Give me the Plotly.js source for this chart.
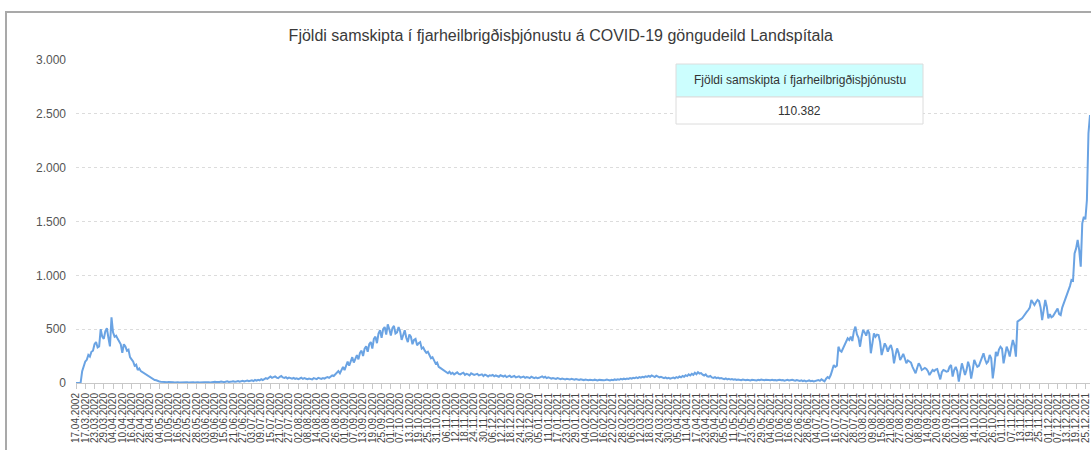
<!DOCTYPE html>
<html>
<head>
<meta charset="utf-8">
<script src="https://cdn.plot.ly/plotly-3.0.1.min.js"></script>
<style>
  html, body { margin: 0; padding: 0; background: #ffffff; }
  #chart { width: 1091px; height: 450px; }
</style>
</head>
<body>
<div id="chart"></div>
<script>
// ---- Data ----
const chartTitle = "Fjöldi samskipta í fjarheilbrigðisþjónustu á COVID-19 göngudeild Landspítala";
const boxHeader = "Fjöldi samskipta í fjarheilbrigðisþjónustu";
const boxValue = "110.382";

// first category is a stray row in the source data, then daily dates
const firstCategory = "17.04.2002";
const firstDailyDate = "2020-03-12";

// daily number of telehealth contacts
const contacts = [
  0, 0, 0, 2, 110, 150, 200, 215, 260, 245,
  290, 300, 360, 380, 330, 340, 500, 430, 410, 480,
  510, 420, 340, 610, 470, 430, 440, 410, 380, 360,
  280, 360, 340, 300, 310, 240, 220, 200, 160, 170,
  120, 135, 110, 100, 90, 80, 70, 65, 55, 45,
  35, 28, 25, 18, 14, 12, 10, 12, 9, 8,
  10, 7, 6, 8, 5, 9, 6, 5, 7, 6,
  4, 6, 8, 5, 7, 9, 6, 5, 8, 6,
  5, 7, 10, 8, 6, 9, 7, 5, 8, 10,
  12, 9, 7, 10, 14, 11, 8, 12, 15, 10,
  9, 13, 16, 11, 14, 18, 12, 15, 20, 14,
  17, 22, 16, 20, 25, 18, 28, 22, 30, 24,
  35, 28, 40, 45, 38, 52, 60, 48, 55, 62,
  50, 45, 58, 65, 52, 48, 55, 42, 50, 46,
  40, 48, 38, 44, 36, 42, 50, 38, 45, 40,
  35, 42, 38, 33, 45, 40, 36, 48, 42, 38,
  45, 40, 50, 55, 48, 60, 70, 65, 80, 95,
  110, 90, 130, 150, 120, 170, 200, 160, 210, 240,
  190, 230, 260, 220, 280, 300, 250, 320, 340, 290,
  360, 380, 320, 410, 430, 370, 460, 490, 420, 500,
  520, 450, 545, 500, 440, 510, 530, 460, 470, 520,
  480, 400, 440, 490, 420, 380, 450, 430, 360, 400,
  410, 350, 370, 380, 320, 330, 300, 280, 290, 250,
  230, 240, 200, 180, 190, 150, 140, 130, 120, 110,
  100, 90, 105, 85, 95, 80, 90, 100, 85, 80,
  90, 95, 75, 85, 80, 70, 90, 85, 75, 80,
  85, 70, 75, 80, 65, 78, 70, 60, 72, 68,
  75, 62, 70, 65, 58, 72, 66, 60, 70, 55,
  62, 68, 55, 60, 65, 52, 58, 62, 50, 56,
  60, 48, 55, 52, 45, 58, 50, 46, 52, 44,
  48, 55, 62, 50, 58, 45, 52, 48, 40, 46,
  42, 38, 45, 40, 36, 42, 38, 34, 40, 35,
  32, 38, 34, 30, 36, 33, 28, 34, 30, 27,
  32, 29, 26, 30, 28, 25, 31, 27, 24, 29,
  26, 30, 25, 28, 32, 27, 24, 30, 26, 33,
  28, 35, 30, 38, 33, 40, 36, 42, 38, 45,
  40, 48, 44, 52, 46, 55, 50, 58, 52, 62,
  56, 65, 58, 70, 62, 55, 68, 60, 52, 58,
  50, 45, 52, 42, 48, 40, 45, 50, 44, 55,
  48, 60, 52, 65, 58, 72, 64, 80, 70, 85,
  75, 95, 82, 100, 88, 92, 78, 70, 80, 62,
  58, 65, 52, 48, 55, 45, 50, 42, 46, 40,
  36, 42, 34, 38, 32, 36, 30, 35, 28, 33,
  30, 26, 32, 28, 25, 30, 27, 24, 29, 26,
  28, 24, 30, 26, 32, 27, 25, 30, 28, 24,
  26, 30, 25, 28, 23, 27, 30, 25, 28, 22,
  26, 29, 24, 27, 30, 25, 22, 28, 24, 20,
  25, 18, 22, 15, 20, 24, 17, 21, 15, 19,
  22, 28, 20, 35, 25, 15, 40, 55, 45, 74,
  120, 167, 150, 160, 337, 300, 290, 320, 353, 380,
  415, 400, 430, 390, 480, 523, 450, 420, 337, 430,
  492, 470, 440, 492, 460, 276, 380, 461, 430, 450,
  446, 380, 260, 320, 368, 340, 290, 330, 353, 300,
  183, 260, 321, 280, 214, 240, 270, 230, 183, 210,
  200, 190, 150, 120, 90, 140, 183, 160, 121, 130,
  140, 130, 110, 74, 100, 121, 110, 125, 130, 90,
  34, 100, 121, 115, 105, 110, 150, 167, 60, 120,
  150, 110, 12, 100, 183, 130, 74, 120, 198, 150,
  40, 120, 214, 180, 150, 160, 200, 240, 276, 220,
  183, 200, 260, 230, 43, 150, 290, 250, 310, 337,
  320, 183, 250, 337, 300, 245, 330, 400, 350, 245,
  570, 580, 585, 600, 620, 647, 660, 678, 700, 771,
  740, 725, 750, 771, 760, 700, 585, 680, 771, 709,
  600, 640, 610, 620, 647, 660, 693, 640, 631, 700,
  740, 771, 820, 864, 900, 957, 950, 1204, 1250, 1328,
  1235, 1080, 1483, 1545, 1520, 1700, 2320, 2489
];

const yTickVals = [0, 500, 1000, 1500, 2000, 2500, 3000];
const tickEvery = 6;

// ---- Categories (x) ----
function fmt(d) {
  const dd = String(d.getUTCDate()).padStart(2, "0");
  const mm = String(d.getUTCMonth() + 1).padStart(2, "0");
  return dd + "." + mm + "." + d.getUTCFullYear();
}
const categories = [firstCategory];
const start = new Date(firstDailyDate + "T00:00:00Z");
for (let k = 0; k < contacts.length - 1; k++) {
  const d = new Date(start.getTime() + k * 86400000);
  categories.push(fmt(d));
}
const xTickLabels = categories.filter((c, i) => i % tickEvery === 0);

// ---- Plot ----
const L = 76, R = 1, T = 60, B = 67, W = 1091, H = 450;
const plotW = W - L - R, plotH = H - T - B;
const px = v => (v - L) / plotW;
const py = v => (H - B - v) / plotH;

const trace = {
  type: "scatter",
  mode: "lines",
  x: categories,
  y: contacts,
  line: { color: "#6aa3e3", width: 2 },
  hoverinfo: "skip"
};

const layout = {
  width: W, height: H,
  margin: { l: L, r: R, t: T, b: B, pad: 0 },
  paper_bgcolor: "rgba(0,0,0,0)",
  plot_bgcolor: "rgba(0,0,0,0)",
  separators: ",.",
  font: { family: "Liberation Sans, Arial, sans-serif", color: "#444" },
  showlegend: false,
  title: {
    text: chartTitle,
    font: { size: 16, color: "#3a3a3a", family: "Liberation Sans, Arial, sans-serif" },
    xref: "container", x: 0.514, xanchor: "center",
    yref: "container", y: 1 - 35 / H, yanchor: "middle"
  },
  xaxis: {
    type: "category",
    range: [0, contacts.length - 1],
    tickmode: "array",
    tickvals: xTickLabels,
    ticktext: xTickLabels,
    tickangle: -90,
    tickfont: { size: 10, color: "#444" },
    ticks: "outside", ticklen: 5, tickcolor: "#c8c8c8", tickwidth: 1,
    showline: true, linecolor: "#c8c8c8", linewidth: 1,
    showgrid: false, zeroline: false,
    fixedrange: true
  },
  yaxis: {
    range: [0, 3000],
    tickmode: "array",
    tickvals: yTickVals,
    tickformat: ",d",
    tickfont: { size: 12, color: "#555" },
    ticks: "", ticklabelstandoff: 9,
    showgrid: true, gridcolor: "#dcdcdc", griddash: "dot", gridwidth: 1,
    zeroline: false, showline: false,
    fixedrange: true
  },
  shapes: [
    { type: "rect", xref: "paper", yref: "paper",
      x0: px(6), x1: px(1200), y0: py(520), y1: py(12),
      line: { color: "#a9a9a9", width: 2 }, fillcolor: "rgba(0,0,0,0)", layer: "below" },
    { type: "rect", xref: "paper", yref: "paper",
      x0: px(676), x1: px(923), y0: py(97), y1: py(64),
      line: { color: "#dcdcdc", width: 1 }, fillcolor: "#ccfefe", layer: "above" },
    { type: "rect", xref: "paper", yref: "paper",
      x0: px(676), x1: px(923), y0: py(124), y1: py(97),
      line: { color: "#dcdcdc", width: 1 }, fillcolor: "#ffffff", layer: "above" }
  ],
  annotations: [
    { xref: "paper", yref: "paper", x: px(799.5), y: py(80.5),
      xanchor: "center", yanchor: "middle", showarrow: false,
      text: boxHeader, font: { size: 12, color: "#333" } },
    { xref: "paper", yref: "paper", x: px(799.5), y: py(110.5),
      xanchor: "center", yanchor: "middle", showarrow: false,
      text: boxValue, font: { size: 12, color: "#333" } }
  ]
};

Plotly.newPlot("chart", [trace], layout, { staticPlot: true, displayModeBar: false });
</script>
</body>
</html>
